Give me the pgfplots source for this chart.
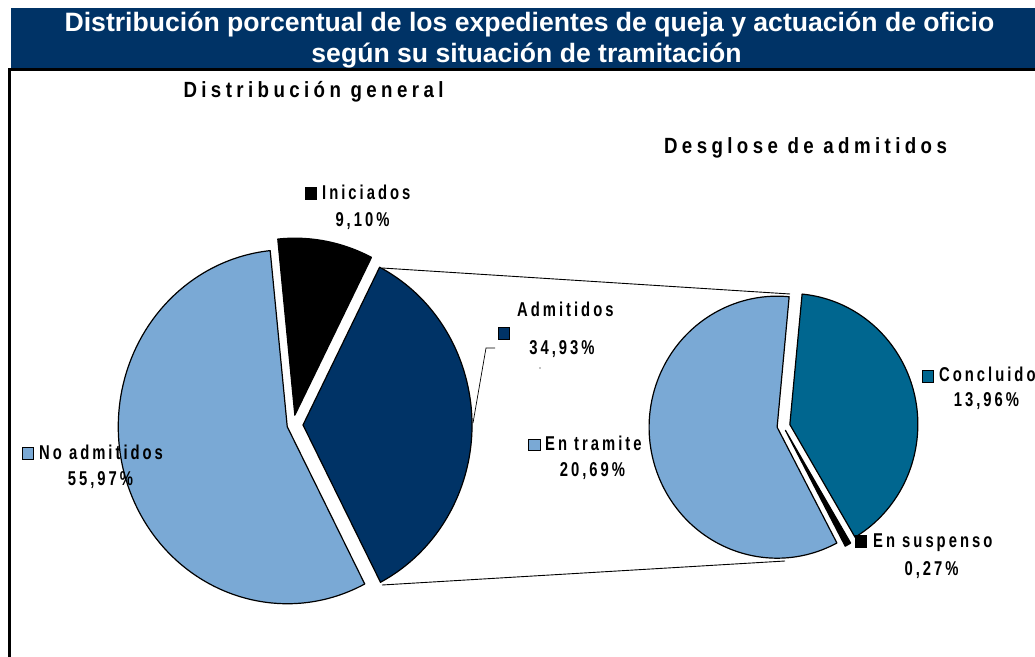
\documentclass[border=0pt]{standalone}
\usepackage{fontspec}
\setmainfont{Liberation Sans}
\newfontfamily\lblfont{Liberation Sans}[FakeStretch=0.74,LetterSpace=15]
\newfontfamily\ttlfont{Liberation Sans}[FakeStretch=0.85,LetterSpace=20]
\usepackage{pgfplots}
\usepackage{pgfplotstable}
\pgfplotsset{compat=1.18}
\definecolor{lblue}{HTML}{7AA9D5}
\definecolor{navy}{HTML}{003366}
\definecolor{tealc}{HTML}{00668F}

\pgfplotstableread{
label pct
Iniciados 9.10
Admitidos 34.93
NoAdmitidos 55.97
}\generaldata
\pgfplotstableread{
label pct
Concluido 13.96
EnSuspenso 0.27
EnTramite 20.69
}\admdata

\pgfplotstablegetelem{0}{pct}\of\generaldata \let\pIni\pgfplotsretval
\pgfplotstablegetelem{1}{pct}\of\generaldata \let\pAdm\pgfplotsretval
\pgfplotstablegetelem{2}{pct}\of\generaldata \let\pNo\pgfplotsretval
\pgfplotstablegetelem{0}{pct}\of\admdata \let\pCon\pgfplotsretval
\pgfplotstablegetelem{1}{pct}\of\admdata \let\pSus\pgfplotsretval
\pgfplotstablegetelem{2}{pct}\of\admdata \let\pTra\pgfplotsretval

% boundaries (clockwise from 12 o'clock, degrees)
\pgfmathsetmacro\La{-5.8}
\pgfmathsetmacro\Lb{\La+3.6*\pIni}
\pgfmathsetmacro\Lc{\Lb+3.6*\pAdm}
\pgfmathsetmacro\Ld{\Lc+3.6*\pNo}
\pgfmathsetmacro\Ra{5.5}
\pgfmathsetmacro\Rb{\Ra+360*\pCon/\pAdm}
\pgfmathsetmacro\Rc{\Rb+360*\pSus/\pAdm}
\pgfmathsetmacro\Rd{\Rc+360*\pTra/\pAdm}

% cx cy rx ry t1 t2 explode color
\newcommand{\sector}[8]{%
 \pgfplotsextra{%
  \pgfmathsetmacro\sa{90-(#5)}%
  \pgfmathsetmacro\sb{90-(#6)}%
  \pgfmathsetmacro\sm{90-((#5)+(#6))/2}%
  \pgfmathsetmacro\ox{#1+#7*cos(\sm)}%
  \pgfmathsetmacro\oy{#2+#7*sin(\sm)}%
  \filldraw[fill=#8,draw=black,line width=1.2pt,line join=round]
    (axis cs:\ox,\oy) -- ++(\sa:#3pt and #4pt)
    arc[start angle=\sa,end angle=\sb,x radius=#3pt,y radius=#4pt] -- cycle;
 }}
\newcommand{\keybox}[3]{% x ybottom color
  \filldraw[fill=#3,draw=black,line width=0.9pt] (axis cs:#1,#2) rectangle (axis cs:#1+11.5,#2+11.5);}
\newcommand{\lbl}{\lblfont\bfseries\fontsize{20}{24}\selectfont}
\newcommand{\ttl}{\ttlfont\bfseries\fontsize{22}{26}\selectfont}

\begin{document}
\begin{tikzpicture}
\begin{axis}[name=ax, x=1pt, y=1pt, xmin=0, xmax=1035, ymin=0, ymax=656,
  hide axis, clip=false, at={(0,0)}, anchor=south west]
% header
\fill[navy] (axis cs:11,588) rectangle (axis cs:1040,648);
\draw[black,line width=2.5pt] (axis cs:9.5,-10) -- (axis cs:9.5,586.5) -- (axis cs:1045,586.5);
\node[anchor=base,text=white,font=\bfseries\fontsize{26.6}{30}\selectfont,inner sep=0] at (axis cs:529.5,624)
  {Distribución porcentual de los expedientes de queja y actuación de oficio};
\node[anchor=base,text=white,font=\bfseries\fontsize{26.6}{30}\selectfont,inner sep=0] at (axis cs:526.5,593.5)
  {según su situación de tramitación};
% connector lines
\addplot[black,line width=0.9pt] coordinates {(382,388) (790,362)};
\addplot[black,line width=0.9pt] coordinates {(382,71) (785,95)};
% leader line
\addplot[black,line width=0.7pt] coordinates {(495,308) (486,308) (473,233)};
% left pie
\sector{293}{231}{169}{177}{\La}{\Lb}{10}{black}
\sector{293}{231}{169}{177}{\Lb}{\Lc}{10}{navy}
\sector{293}{231}{169}{177}{\Lc}{\Ld}{6}{lblue}
% right pie
\sector{783}{230}{128}{131}{\Ra}{\Rb}{7}{tealc}
\sector{783}{230}{128}{131}{\Rb}{\Rc}{5}{black}
\sector{783}{230}{128}{131}{\Rc}{\Rd}{6}{lblue}
% titles
\node[anchor=base,inner sep=0,font=\ttl] at (axis cs:313.5,558.5) {Distribución general};
\node[anchor=base,inner sep=0,font=\ttl] at (axis cs:805.5,502) {Desglose de admitidos};
% labels
\keybox{305}{457}{black}
\node[anchor=base west,inner sep=0,font=\lbl] at (axis cs:322,456.7) {Iniciados};
\node[anchor=base,inner sep=0,font=\lbl] at (axis cs:362.5,429.3) {9,10\%};
\keybox{498}{317}{navy}
\node[anchor=base west,inner sep=0,font=\lbl] at (axis cs:517,339.3) {Admitidos};
\node[anchor=base,inner sep=0,font=\lbl] at (axis cs:562,301) {34,93\%};
\fill[black] (axis cs:540,288) circle[radius=0.7pt];
\keybox{22}{197}{lblue}
\node[anchor=base west,inner sep=0,font=\lbl] at (axis cs:39,196) {No admitidos};
\node[anchor=base,inner sep=0,font=\lbl] at (axis cs:100.5,171) {55,97\%};
\keybox{528.5}{205.5}{lblue}
\node[anchor=base west,inner sep=0,font=\lbl] at (axis cs:545,205.3) {En tramite};
\node[anchor=base,inner sep=0,font=\lbl] at (axis cs:592.5,179) {20,69\%};
\keybox{922}{274}{tealc}
\node[anchor=base west,inner sep=0,font=\lbl] at (axis cs:939,274) {Concluido};
\node[anchor=base,inner sep=0,font=\lbl] at (axis cs:986.5,249) {13,96\%};
\keybox{855}{109}{black}
\node[anchor=base west,inner sep=0,font=\lbl] at (axis cs:873,109) {En suspenso};
\node[anchor=base,inner sep=0,font=\lbl] at (axis cs:931.5,81) {0,27\%};
\end{axis}
\pgfresetboundingbox
\useasboundingbox (ax.south west) rectangle (ax.north east);
\end{tikzpicture}
\end{document}
